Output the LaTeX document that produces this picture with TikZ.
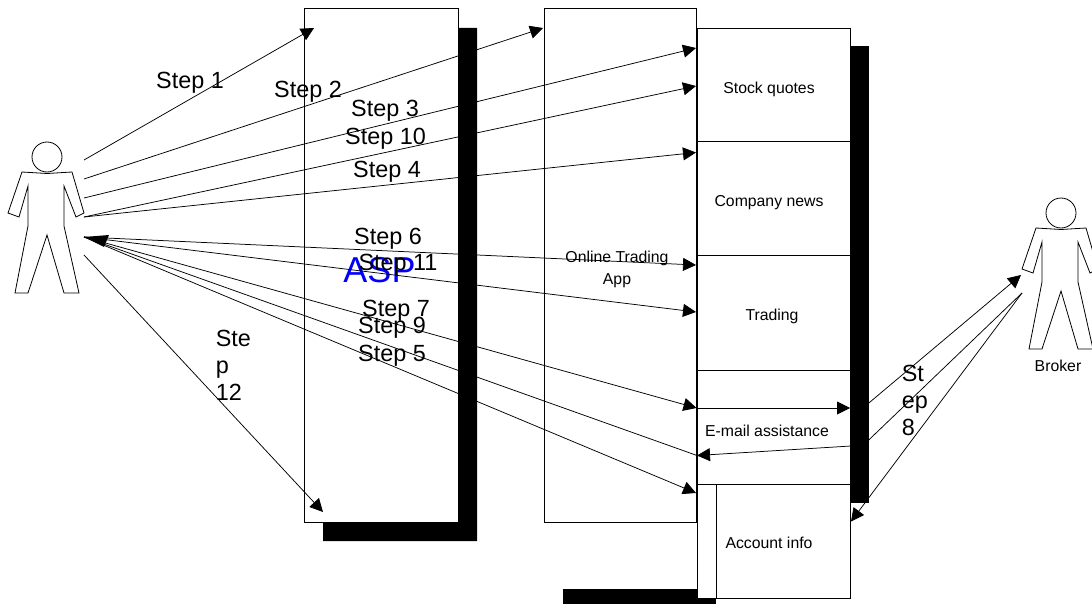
\documentclass[tikz,border=0pt]{standalone}
\usepackage{fontspec}
\setmainfont{Liberation Sans}
\usetikzlibrary{arrows.meta}
\tikzset{
  panel/.style={draw, fill=white, line width=0.9pt, inner sep=0pt},
  steplabel/.style={font=\fontsize{23.4}{27}\selectfont, inner sep=0pt},
  boxlabel/.style={font=\fontsize{15.8}{21.5}\selectfont, inner sep=0pt, align=center},
  person/.pic={
    \draw[line width=0.8pt] (47,157) circle (15);
    \draw[line width=0.8pt] (22,172) -- (47,173.5) -- (72,172) -- (84,213) -- (76,217) -- (64,186) -- (64,226)
      -- (79,293) -- (64,293) -- (47,235) -- (28,293) -- (15,293) -- (28,226) -- (28,186) -- (19,217) -- (8,213) -- cycle;
  }
}
\begin{document}
\begin{tikzpicture}[x=1pt, y=-1pt, >={Stealth[length=13pt, width=13pt, inset=0pt]}, line width=0.75pt]
  \useasboundingbox (0,0) rectangle (1092,604);

  % boxes
  \node[panel, minimum width=154pt, minimum height=513.5pt] (asp) at (381,265.7) {};
  \node[panel, minimum width=152.5pt, minimum height=513.5pt] (app) at (620.5,265.7) {};
  \node[panel, minimum width=153.5pt, minimum height=113.5pt] (quotes) at (773.8,84.8) {};
  \node[panel, minimum width=153.5pt, minimum height=113.5pt] (news) at (773.8,198.3) {};
  \node[panel, minimum width=153.5pt, minimum height=115pt] (trading) at (773.8,312.5) {};
  \node[panel, minimum width=153.5pt, minimum height=114.5pt] (email) at (773.8,427.2) {};
  \node[panel, minimum width=153.5pt, minimum height=113.5pt] (account) at (773.8,541.2) {};

  % box texts
  \node[font=\fontsize{36}{40}\selectfont, text=blue, inner sep=0pt] (asptext) at (379.5,270) {ASP};
  \node[boxlabel] (apptext) at (617,269.5) {Online Trading\\App};
  \node[boxlabel] (quotestext) at (769,89.5) {Stock quotes};
  \node[boxlabel] (newstext) at (769,203) {Company news};
  \node[boxlabel] (tradingtext) at (772,316) {Trading};
  \node[boxlabel] (emailtext) at (767,430.5) {E-mail assistance};
  \node[boxlabel] (accounttext) at (769,543) {Account info};

  % people
  \pic (client) at (0,0) {person};
  \pic (broker) at (1014,56) {person};
  \node[boxlabel] (brokertext) at (1058,366) {Broker};

  % arrow ends
  \coordinate (c1) at (84,160);
  \coordinate (c2) at (84,179);
  \coordinate (c3) at (84,198);
  \coordinate (c4) at (84,217);
  \coordinate (c5) at (84,237);
  \coordinate (c6) at (84,255);
  \coordinate (b1) at (1021,275);
  \coordinate (b2) at (1022,293);
  \coordinate (aspIn) at (314,28);
  \coordinate (aspOut) at (323,512);
  \coordinate (appIn) at (543,28);
  \coordinate (q1) at (696,48);
  \coordinate (q2) at (696,86);
  \coordinate (n1) at (696,152.5);
  \coordinate (t1) at (696,265);
  \coordinate (t2) at (696,312);
  \coordinate (e1) at (696.5,408);
  \coordinate (e2) at (697,455.5);
  \coordinate (a1) at (696,493);
  \coordinate (e3) at (850,408);
  \coordinate (e4) at (851,446);
  \coordinate (e5) at (851,418);
  \coordinate (e6) at (851,457);
  \coordinate (a2) at (851,521.5);
  \coordinate (h1) at (109,235);
  \coordinate (h2) at (104,247);

  % client arrows
  \draw[->] (c1) -- (aspIn);
  \draw[->] (c2) -- (appIn);
  \draw[->] (c3) -- (q1);
  \draw[->] (c4) -- (q2);
  \draw[->] (c4) -- (n1);
  \draw[->] (c5) -- (t1);
  \draw[->] (c5) -- (t2);
  \draw[->] (c5) -- (e1);
  \draw (c5) -- (e2);
  \draw[->] (c5) -- (a1);
  \draw[->] (c6) -- (aspOut);
  \fill (c5) -- (h1) -- (h2) -- cycle;

  % broker arrows
  \draw[->] (e1) -- (e3);
  \draw[->] (e4) -- (e2);
  \draw[->] (e5) -- (b1);
  \draw (b2) -- (e6);
  \draw[->] (b2) -- (a2);

  % shadows
  \fill (458.5,28) -- (477,28) -- (477,541) -- (323,541) -- (323,522.7) -- (458.5,522.7) -- cycle;
  \fill (851,46) rectangle (869,503);
  \fill (563,589) rectangle (696.5,604);
  \fill (697,598.5) rectangle (716,604);
  \draw[line width=0.9pt] (716,484) -- (716,598);

  % step labels
  \node[steplabel] (s1) at (190,83) {Step 1};
  \node[steplabel] (s2) at (308,92) {Step 2};
  \node[steplabel] (s3) at (385,111) {Step 3};
  \node[steplabel] (s10) at (385.5,139) {Step 10};
  \node[steplabel] (s4) at (387,172) {Step 4};
  \node[steplabel] (s6) at (388,239) {Step 6};
  \node[steplabel] (s11) at (398,265) {Step 11};
  \node[steplabel] (s7) at (396,311) {Step 7};
  \node[steplabel] (s9) at (392,328) {Step 9};
  \node[steplabel] (s5) at (392,356) {Step 5};
  \node[steplabel, align=left, anchor=north west] (s12) at (215.5,330) {Ste\\p\\12};
  \node[steplabel, align=left, anchor=north west] (s8) at (901.5,365) {St\\ep\\8};
\end{tikzpicture}
\end{document}
